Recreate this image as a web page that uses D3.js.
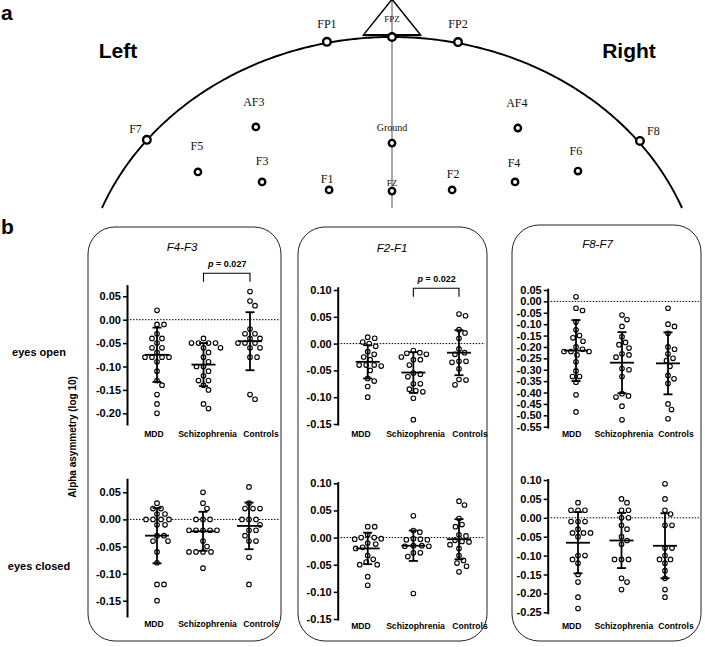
<!DOCTYPE html>
<html>
<head>
<meta charset="utf-8">
<script src="https://cdn.jsdelivr.net/npm/d3@7"></script>
<style>
  html, body { margin: 0; padding: 0; background: #fff; }
  svg { display: block; font-family: "Liberation Sans", Arial, sans-serif; }
</style>
</head>
<body>
<svg id="chart" width="705" height="647"></svg>
<script>
// ---------- montage (head coordinates: x -1 left .. +1 right, y 0 .. 1 nasion) ----------
const electrodeNames = ["FP1", "FPZ", "FP2", "F7", "F8", "AF3", "AF4", "F5", "F3", "F1", "Ground", "FZ", "F2", "F4", "F6"];
const electrodeX = [-0.209, 0, 0.212, -0.787, 0.796, -0.437, 0.404, -0.623, -0.417, -0.202, 0, 0, 0.193, 0.395, 0.597];
const electrodeY = [0.982, 1.0, 0.981, 0.618, 0.614, 0.666, 0.662, 0.499, 0.462, 0.432, 0.606, 0.428, 0.432, 0.462, 0.502];

// ---------- alpha asymmetry data ----------
const categories = ["MDD", "Schizophrenia", "Controls"];
const derivations = ["F4-F3", "F2-F1", "F8-F7"];
const conditions = ["eyes open", "eyes closed"];
const pLabels = ["0.027", "0.022", null];

// F4-F3
const f4f3OpenMDD = [0.02, -0.01, -0.01, -0.03, -0.04, -0.04, -0.05, -0.06, -0.06, -0.07, -0.08, -0.08, -0.08, -0.08, -0.09, -0.11, -0.13, -0.14, -0.16, -0.18, -0.20];
const f4f3OpenSCZ = [-0.04, -0.05, -0.05, -0.05, -0.05, -0.06, -0.06, -0.07, -0.08, -0.09, -0.10, -0.10, -0.11, -0.12, -0.13, -0.13, -0.14, -0.15, -0.18, -0.19];
const f4f3OpenCTL = [0.06, 0.04, 0.03, -0.02, -0.03, -0.03, -0.04, -0.04, -0.05, -0.05, -0.05, -0.06, -0.06, -0.08, -0.08, -0.16, -0.17];
const f4f3ClosedMDD = [0.03, 0.02, 0.02, 0.01, 0.01, 0.00, 0.00, 0.00, 0.00, -0.01, -0.01, -0.03, -0.03, -0.04, -0.04, -0.06, -0.08, -0.12, -0.12, -0.15];
const f4f3ClosedSCZ = [0.05, 0.03, 0.02, 0.00, 0.00, 0.00, -0.02, -0.02, -0.02, -0.02, -0.02, -0.04, -0.05, -0.06, -0.06, -0.06, -0.06, -0.09];
const f4f3ClosedCTL = [0.06, 0.03, 0.02, 0.02, 0.02, 0.00, 0.00, 0.00, -0.01, -0.02, -0.02, -0.03, -0.04, -0.04, -0.07, -0.12];

// F2-F1
const f2f1OpenMDD = [0.012, 0.01, 0.003, 0.0, -0.005, -0.015, -0.02, -0.025, -0.03, -0.04, -0.04, -0.042, -0.04, -0.05, -0.065, -0.07, -0.08, -0.10];
const f2f1OpenSCZ = [-0.013, -0.017, -0.018, -0.02, -0.025, -0.03, -0.03, -0.04, -0.055, -0.057, -0.062, -0.075, -0.075, -0.085, -0.088, -0.09, -0.102, -0.142];
const f2f1OpenCTL = [0.055, 0.052, 0.026, 0.02, 0.01, -0.01, -0.017, -0.02, -0.033, -0.033, -0.035, -0.047, -0.067, -0.068, -0.077];
const f2f1ClosedMDD = [0.02, 0.02, 0.005, 0.0, -0.002, -0.003, 0.0, -0.01, -0.012, -0.018, -0.02, -0.033, -0.04, -0.045, -0.05, -0.05, -0.072, -0.088];
const f2f1ClosedSCZ = [0.04, 0.013, 0.01, -0.002, -0.004, -0.004, -0.003, -0.015, -0.015, -0.016, -0.016, -0.028, -0.028, -0.035, -0.103];
const f2f1ClosedCTL = [0.067, 0.06, 0.035, 0.024, 0.02, 0.005, 0.003, -0.005, -0.007, -0.008, -0.013, -0.02, -0.033, -0.042, -0.047, -0.053, -0.063];

// F8-F7
const f8f7OpenMDD = [0.02, -0.03, -0.04, -0.09, -0.125, -0.15, -0.16, -0.175, -0.20, -0.21, -0.22, -0.22, -0.22, -0.235, -0.265, -0.305, -0.33, -0.33, -0.355, -0.41, -0.485];
const f8f7OpenSCZ = [-0.06, -0.08, -0.11, -0.155, -0.18, -0.19, -0.205, -0.23, -0.235, -0.245, -0.295, -0.30, -0.33, -0.405, -0.415, -0.42, -0.46, -0.52];
const f8f7OpenCTL = [-0.03, -0.10, -0.11, -0.14, -0.20, -0.21, -0.23, -0.25, -0.26, -0.285, -0.325, -0.34, -0.36, -0.45, -0.475, -0.515];
const f8f7ClosedMDD = [0.04, 0.02, 0.02, 0.02, -0.01, -0.01, -0.01, -0.03, -0.04, -0.04, -0.04, -0.05, -0.10, -0.10, -0.11, -0.12, -0.15, -0.17, -0.21, -0.24];
const f8f7ClosedSCZ = [0.05, 0.04, 0.02, 0.02, 0.00, 0.00, -0.02, -0.03, -0.05, -0.06, -0.07, -0.11, -0.11, -0.11, -0.16, -0.17, -0.19];
const f8f7ClosedCTL = [0.09, 0.05, 0.02, 0.01, -0.02, -0.02, -0.08, -0.08, -0.10, -0.11, -0.11, -0.12, -0.14, -0.16, -0.19, -0.21];

// group mean and SD (error bars)
const f4f3OpenMean = [-0.075, -0.096, -0.046];
const f4f3OpenSD = [0.058, 0.046, 0.062];
const f4f3ClosedMean = [-0.030, -0.022, -0.012];
const f4f3ClosedSD = [0.051, 0.036, 0.043];
const f2f1OpenMean = [-0.034, -0.054, -0.017];
const f2f1OpenSD = [0.031, 0.038, 0.042];
const f2f1ClosedMean = [-0.020, -0.015, -0.003];
const f2f1ClosedSD = [0.029, 0.028, 0.037];
const f8f7OpenMean = [-0.216, -0.269, -0.272];
const f8f7OpenSD = [0.134, 0.134, 0.136];
const f8f7ClosedMean = [-0.066, -0.060, -0.074];
const f8f7ClosedSD = [0.081, 0.073, 0.086];

// tick labels
const ticksF4F3Open = [0.05, 0.00, -0.05, -0.10, -0.15, -0.20];
const ticksF4F3Closed = [0.05, 0.00, -0.05, -0.10, -0.15];
const ticksF2F1Open = [0.10, 0.05, 0.00, -0.05, -0.10, -0.15];
const ticksF2F1Closed = [0.10, 0.05, 0.00, -0.05, -0.10, -0.15];
const ticksF8F7Open = [0.05, 0.00, -0.05, -0.10, -0.15, -0.20, -0.25, -0.30, -0.35, -0.40, -0.45, -0.50, -0.55];
const ticksF8F7Closed = [0.10, 0.05, 0.00, -0.05, -0.10, -0.15, -0.20, -0.25];

// ---------- drawing ----------
const svg = d3.select("#chart");
const SERIF = '"Liberation Serif", "Times New Roman", serif';

// panel letters
svg.append("text").attr("x", 1).attr("y", 20).attr("font-size", 21).attr("font-weight", "bold").text("a");
svg.append("text").attr("x", 1).attr("y", 234).attr("font-size", 21).attr("font-weight", "bold").text("b");

// ---- panel a: head ----
const hx = d3.scaleLinear().domain([-1, 1]).range([80.5, 703.5]);
const hy = d3.scaleLinear().domain([0, 1]).range([306.3, 37]);
const headCut = 0.365;  // lowest visible part of the outline

const t0 = Math.asin(headCut);
const outline = d3.range(t0, Math.PI - t0 + 0.001, 0.01).map(t => [Math.cos(t), Math.sin(t)]);
outline.push([Math.cos(Math.PI - t0), Math.sin(Math.PI - t0)]);
const headLine = d3.line().x(d => hx(d[0])).y(d => hy(d[1]));

// midline
svg.append("line")
  .attr("x1", hx(0)).attr("x2", hx(0))
  .attr("y1", hy(1.137)).attr("y2", hy(headCut))
  .attr("stroke", "#a8a8a8").attr("stroke-width", 2);

svg.append("path").attr("d", headLine(outline))
  .attr("fill", "none").attr("stroke", "#000").attr("stroke-width", 1.9);

// nose
svg.append("path")
  .attr("d", headLine([[-0.092, 1.007], [0, 1.14], [0.092, 1.007]]) + "Z")
  .attr("fill", "none").attr("stroke", "#000").attr("stroke-width", 1.5);
svg.append("line")
  .attr("x1", hx(-0.092)).attr("x2", hx(0.092)).attr("y1", hy(1.007)).attr("y2", hy(1.007))
  .attr("stroke", "#000").attr("stroke-width", 2.2);

svg.append("text").attr("x", 118).attr("y", 58).attr("text-anchor", "middle")
  .attr("font-size", 21).attr("font-weight", "bold").text("Left");
svg.append("text").attr("x", 629).attr("y", 58).attr("text-anchor", "middle")
  .attr("font-size", 21).attr("font-weight", "bold").text("Right");

// label placement relative to each electrode
const labelPos = {
  FP1: {dx: 0, dy: -14, size: 12}, FPZ: {dx: 0, dy: -15, size: 9}, FP2: {dx: 0, dy: -14, size: 12},
  F7: {dx: -5, dy: -7, size: 12, anchor: "end"}, F8: {dx: 7, dy: -6, size: 12, anchor: "start"},
  AF3: {dx: -2, dy: -21, size: 12}, AF4: {dx: -1, dy: -21, size: 12},
  F5: {dx: -1, dy: -22, size: 12}, F3: {dx: 0, dy: -17, size: 12}, F1: {dx: -2, dy: -7, size: 12},
  Ground: {dx: 0, dy: -12, size: 10}, FZ: {dx: 0, dy: -5, size: 9},
  F2: {dx: 1, dy: -12, size: 12}, F4: {dx: -1, dy: -15, size: 12}, F6: {dx: -2, dy: -16, size: 12}
};
const rim = new Set(["FP1", "FPZ", "FP2", "F7", "F8"]);

const elec = electrodeNames.map((n, i) => ({name: n, x: hx(electrodeX[i]), y: hy(electrodeY[i])}));
const eg = svg.append("g");
eg.selectAll("circle").data(elec).join("circle")
  .attr("cx", d => d.x).attr("cy", d => d.y)
  .attr("r", d => rim.has(d.name) ? 3.8 : 3.2)
  .attr("fill", "#fff").attr("stroke", "#000").attr("stroke-width", 2.4);
eg.selectAll("text").data(elec).join("text")
  .attr("x", d => d.x + labelPos[d.name].dx)
  .attr("y", d => d.y + labelPos[d.name].dy)
  .attr("text-anchor", d => labelPos[d.name].anchor || "middle")
  .attr("font-family", SERIF)
  .attr("font-size", d => labelPos[d.name].size)
  .attr("fill", "#111")
  .text(d => d.name);

// ---- panel b ----
const columns = [
  {box: [88, 227, 281, 641], axisX: 127, title: [182, 251], bracketY: 273.3, labelY: [437, 627], labelX: [154, 261]},
  {box: [298, 227, 487, 641], axisX: 337.7, title: [392, 252], bracketY: 288.3, labelY: [437, 629], labelX: [361, 470]},
  {box: [512, 225, 701, 641], axisX: 547.7, title: [597.5, 248], bracketY: null, labelY: [437, 629], labelX: [571.7, 676]}
];

const subplots = [
  {col: 0, row: 0, vals: [f4f3OpenMDD, f4f3OpenSCZ, f4f3OpenCTL], mean: f4f3OpenMean, sd: f4f3OpenSD,
   ticks: ticksF4F3Open, px: [413.3, 296.3], ext: [-0.225, 0.075], cats: [157, 250]},
  {col: 0, row: 1, vals: [f4f3ClosedMDD, f4f3ClosedSCZ, f4f3ClosedCTL], mean: f4f3ClosedMean, sd: f4f3ClosedSD,
   ticks: ticksF4F3Closed, px: [600.7, 492.3], ext: [-0.18, 0.076], cats: [157, 249]},
  {col: 1, row: 0, vals: [f2f1OpenMDD, f2f1OpenSCZ, f2f1OpenCTL], mean: f2f1OpenMean, sd: f2f1OpenSD,
   ticks: ticksF2F1Open, px: [424, 290], ext: [-0.152, 0.106], cats: [367.7, 459]},
  {col: 1, row: 1, vals: [f2f1ClosedMDD, f2f1ClosedSCZ, f2f1ClosedCTL], mean: f2f1ClosedMean, sd: f2f1ClosedSD,
   ticks: ticksF2F1Closed, px: [619, 483.3], ext: [-0.152, 0.103], cats: [367.7, 459]},
  {col: 2, row: 0, vals: [f8f7OpenMDD, f8f7OpenSCZ, f8f7OpenCTL], mean: f8f7OpenMean, sd: f8f7OpenSD,
   ticks: ticksF8F7Open, px: [426.7, 290], ext: [-0.556, 0.058], cats: [576, 668]},
  {col: 2, row: 1, vals: [f8f7ClosedMDD, f8f7ClosedSCZ, f8f7ClosedCTL], mean: f8f7ClosedMean, sd: f8f7ClosedSD,
   ticks: ticksF8F7Closed, px: [612.3, 480], ext: [-0.254, 0.104], cats: [578, 665]}
];

const fmt = v => (Math.abs(v) < 1e-9 ? 0 : v).toFixed(2);

// boxes and titles
columns.forEach((c, i) => {
  const [x0, y0, x1, y1] = c.box;
  svg.append("rect").attr("x", x0).attr("y", y0).attr("width", x1 - x0).attr("height", y1 - y0)
    .attr("rx", 27).attr("ry", 27)
    .attr("fill", "none").attr("stroke", "#222").attr("stroke-width", 1);
  svg.append("text").attr("x", c.title[0]).attr("y", c.title[1]).attr("text-anchor", "middle")
    .attr("font-size", 11.5).attr("font-style", "italic").text(derivations[i]);
});

// simple beeswarm so equal values spread sideways
function swarm(values, y, cx, dist) {
  const placed = [];
  const out = new Array(values.length);
  const order = d3.range(values.length).sort((a, b) => values[b] - values[a]);
  order.forEach(i => {
    const py = y(values[i]);
    let off = 0;
    for (let k = 0; k < 60; k++) {
      const cands = k === 0 ? [0] : [k * 0.5, -k * 0.5];
      const ok = cands.find(o => placed.every(p => (p.x - o) ** 2 + (p.y - py) ** 2 >= dist * dist));
      if (ok !== undefined) { off = ok; break; }
    }
    placed.push({x: off, y: py});
    out[i] = {x: cx + off, y: py};
  });
  return out;
}

subplots.forEach(s => {
  const c = columns[s.col];
  const tMin = d3.min(s.ticks), tMax = d3.max(s.ticks);
  const yt = d3.scaleLinear().domain([tMin, tMax]).range(s.px);
  const y = d3.scaleLinear().domain(s.ext).range(s.ext.map(yt));
  const x = d3.scalePoint().domain(categories).range(s.cats);
  const xl = d3.scalePoint().domain(categories).range(c.labelX);
  const g = svg.append("g");

  // dotted zero line
  g.append("line")
    .attr("x1", c.axisX).attr("x2", c.box[2] - 2)
    .attr("y1", y(0)).attr("y2", y(0))
    .attr("stroke", "#000").attr("stroke-width", 1).attr("stroke-dasharray", "1.5,1.5");

  // axis
  const ax = g.append("g").attr("transform", `translate(${c.axisX},0)`)
    .call(d3.axisLeft(y).tickValues(s.ticks).tickSize(4).tickSizeOuter(0).tickPadding(2).tickFormat(fmt));
  ax.select(".domain").attr("stroke-width", 2).attr("stroke", "#000");
  ax.selectAll(".tick line").attr("stroke-width", 1.5).attr("stroke", "#000");
  ax.selectAll(".tick text").attr("font-size", 11).attr("font-weight", "bold")
    .attr("font-family", '"Liberation Sans", Arial, sans-serif').attr("fill", "#000");

  // points
  categories.forEach((cat, i) => {
    const pts = swarm(s.vals[i], y, x(cat), 6.6);
    g.append("g").selectAll("circle").data(pts).join("circle")
      .attr("cx", d => d.x).attr("cy", d => d.y).attr("r", 2.3)
      .attr("fill", "#fff").attr("stroke", "#000").attr("stroke-width", 1.1);
  });

  // mean +/- SD
  const eb = g.append("g").attr("stroke", "#000").attr("stroke-width", 1.8);
  categories.forEach((cat, i) => {
    const cx = x(cat), m = s.mean[i], sd = s.sd[i];
    eb.append("line").attr("x1", cx).attr("x2", cx).attr("y1", y(m + sd)).attr("y2", y(m - sd));
    eb.append("line").attr("x1", cx - 4.5).attr("x2", cx + 4.5).attr("y1", y(m + sd)).attr("y2", y(m + sd));
    eb.append("line").attr("x1", cx - 4.5).attr("x2", cx + 4.5).attr("y1", y(m - sd)).attr("y2", y(m - sd));
    eb.append("line").attr("x1", cx - 12).attr("x2", cx + 12).attr("y1", y(m)).attr("y2", y(m));
  });

  // category labels
  g.append("g").selectAll("text").data(categories).join("text")
    .attr("x", d => xl(d)).attr("y", c.labelY[s.row])
    .attr("text-anchor", "middle").attr("font-size", 8.6).attr("font-weight", "bold")
    .text(d => d);

  // significance bracket (eyes open, Schizophrenia vs Controls)
  if (s.row === 0 && pLabels[s.col]) {
    const xa = x("Schizophrenia"), xb = x("Controls"), by = c.bracketY;
    g.append("path").attr("d", `M${xa},${by + 8.5}V${by}H${xb}V${by + 8.5}`)
      .attr("fill", "none").attr("stroke", "#000").attr("stroke-width", 1.1);
    const t = g.append("text").attr("x", (xa + xb) / 2 + 0.5).attr("y", by - 6)
      .attr("text-anchor", "middle").attr("font-size", 9).attr("font-weight", "bold");
    t.append("tspan").attr("font-style", "italic").text("p");
    t.append("tspan").text(" = " + pLabels[s.col]);
  }
});

// row labels and shared y title
svg.append("text").attr("x", 39).attr("y", 356).attr("text-anchor", "middle")
  .attr("font-size", 11).attr("font-weight", "bold").text(conditions[0]);
svg.append("text").attr("x", 39).attr("y", 570).attr("text-anchor", "middle")
  .attr("font-size", 11).attr("font-weight", "bold").text(conditions[1]);
svg.append("text").attr("transform", "translate(76,437) rotate(-90)").attr("text-anchor", "middle")
  .attr("font-size", 10).attr("font-weight", "bold").text("Alpha asymmetry (log 10)");
</script>
</body>
</html>
